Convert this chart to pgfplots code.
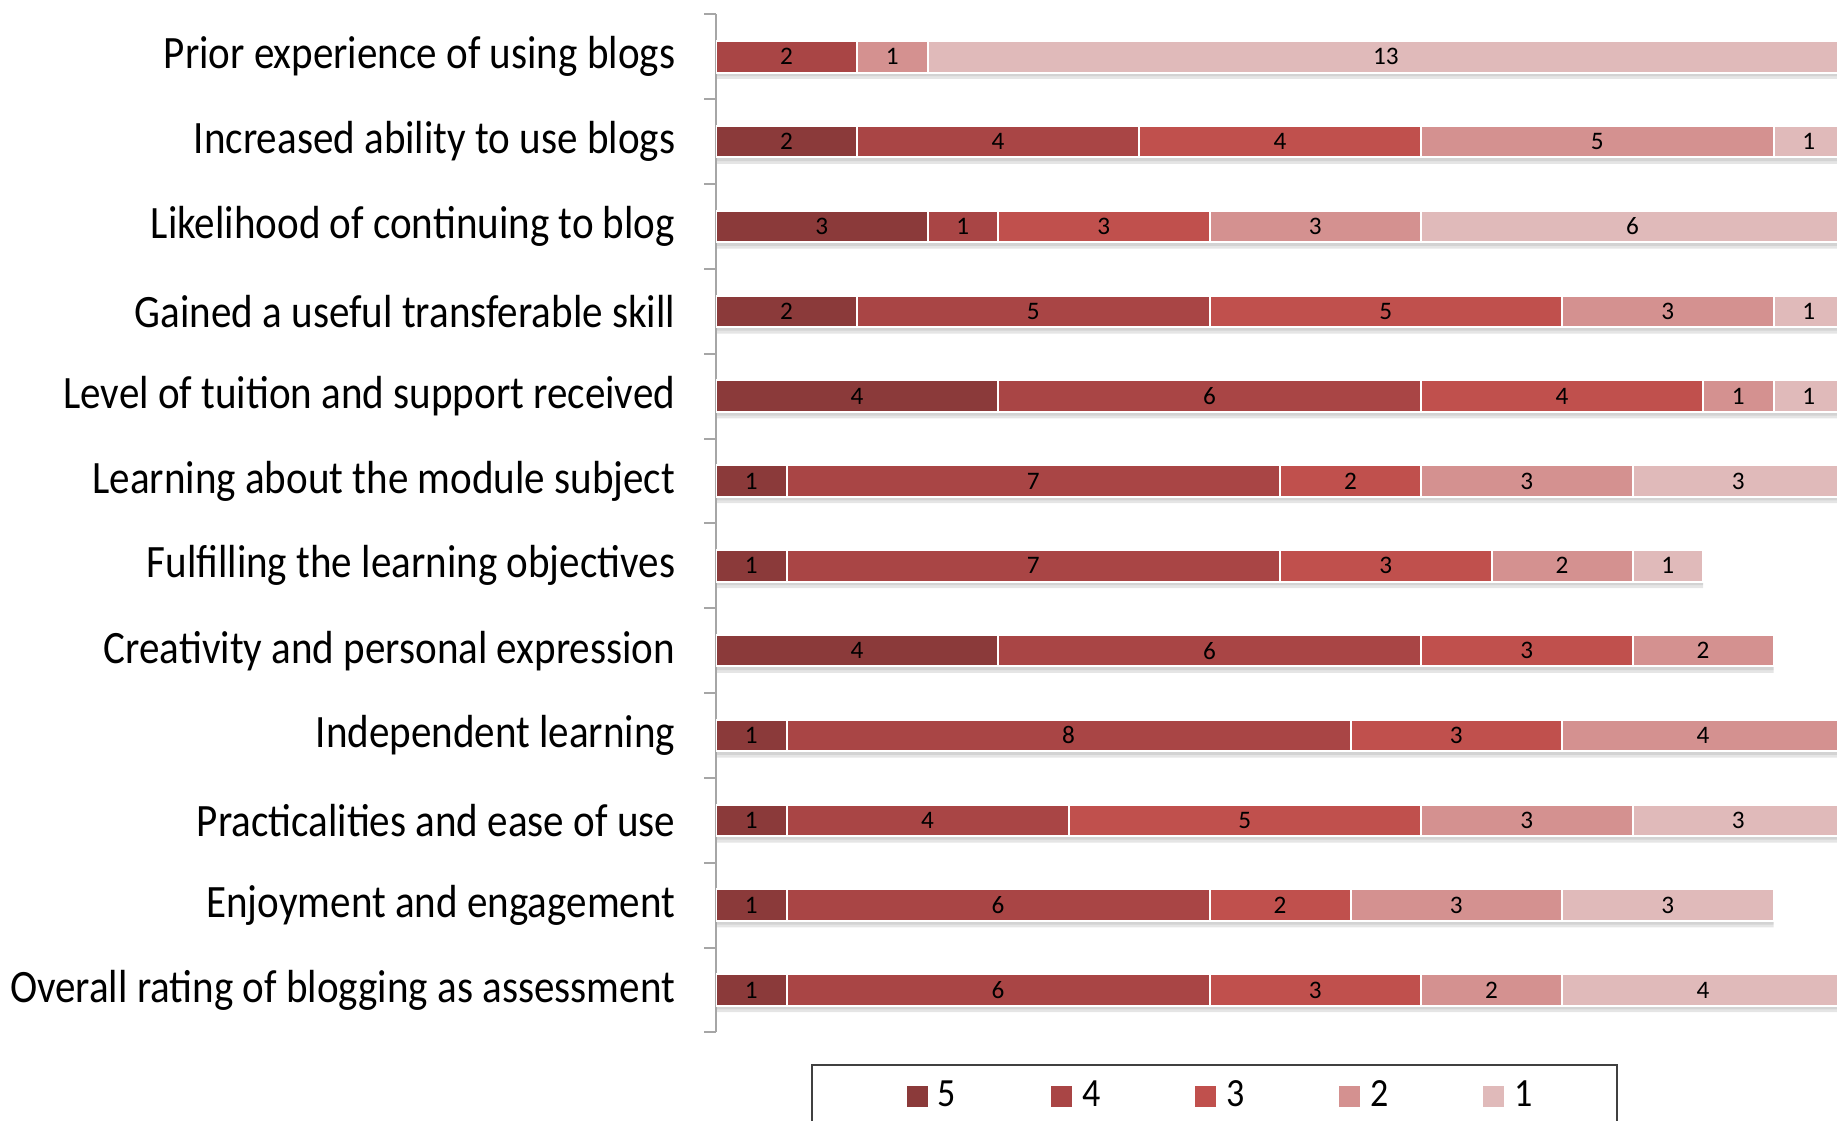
\documentclass[border=0pt]{standalone}
\usepackage{fontspec}
\setmainfont{Carlito}
\newfontfamily\legendfont[FakeStretch=0.9]{Carlito}
\newfontfamily\labelfont[FakeStretch=0.885]{Carlito}
\usepackage{pgfplots}
\usepackage{pgfplotstable}
\pgfplotsset{compat=1.18}
\definecolor{c5}{HTML}{8B3A3A}
\definecolor{c4}{HTML}{A94545}
\definecolor{c3}{HTML}{C0504D}
\definecolor{c2}{HTML}{D49190}
\definecolor{c1}{HTML}{E0BABA}
\definecolor{axgray}{HTML}{A6A6A6}
\pgfplotsset{
  firstleg/.style={legend image code/.code={\path (-4.75pt,0pt); \fill[##1,draw=none] (0pt,-2.625pt) rectangle (5.25pt,2.625pt);}},
}

\pgfplotstableread{
x y label
0.5 0 1
4 0 6
8.5 0 3
11 0 2
14 0 4
0.5 1 1
4 1 6
8 1 2
10.5 1 3
13.5 1 3
0.5 2 1
3 2 4
7.5 2 5
11.5 2 3
14.5 2 3
0.5 3 1
5 3 8
10.5 3 3
14 3 4
2 4 4
7 4 6
11.5 4 3
14 4 2
0.5 5 1
4.5 5 7
9.5 5 3
12 5 2
13.5 5 1
0.5 6 1
4.5 6 7
9 6 2
11.5 6 3
14.5 6 3
2 7 4
7 7 6
12 7 4
14.5 7 1
15.5 7 1
1 8 2
4.5 8 5
9.5 8 5
13.5 8 3
15.5 8 1
1.5 9 3
3.5 9 1
5.5 9 3
8.5 9 3
13 9 6
1 10 2
4 10 4
8 10 4
12.5 10 5
15.5 10 1
1 11 2
2.5 11 1
9.5 11 13
}\labeltable

\pgfplotstableread{
total y
16 0
15 1
16 2
16 3
15 4
14 5
16 6
16 7
16 8
16 9
16 10
16 11
}\totaltable

\begin{document}
\begin{tikzpicture}[x=1pt,y=1pt]
\path[use as bounding box, clip] (0,0) rectangle (459.25,280.25);
% soft shadow beneath the bars
\begin{axis}[
  at={(179pt,22.15pt)}, anchor=south west,
  width=280.25pt, height=254.5pt, scale only axis,
  xmin=0, xmax=15.9, ymin=-0.5, ymax=11.5,
  hide axis, xbar, bar width=7.9pt,
]
\addplot[fill=black, opacity=0.10, draw=none, bar shift=-1.6pt] table[x=total, y=y] {\totaltable};
\addplot[fill=black, opacity=0.08, draw=none, bar shift=-0.9pt] table[x=total, y=y] {\totaltable};
\end{axis}
\begin{axis}[
  at={(179pt,22.15pt)}, anchor=south west,
  width=280.25pt, height=254.5pt, scale only axis,
  xbar stacked, bar width=7.9pt,
  xmin=0, xmax=15.9, ymin=-0.5, ymax=11.5,
  axis x line=none, axis y line*=left,
  axis line style={draw=axgray, line width=0.5pt},
  ytick={0,...,11},
  yticklabels={Overall rating of blogging as assessment, Enjoyment and engagement, Practicalities and ease of use, Independent learning, Creativity and personal expression, Fulfilling the learning objectives, Learning about the module subject, Level of tuition and support received, Gained a useful transferable skill, Likelihood of continuing to blog, Increased ability to use blogs, Prior experience of using blogs},
  major tick length=0pt,
  minor ytick={-0.5,0.5,...,11.5}, minor tick length=3pt,
  tick align=outside,
  minor tick style={draw=axgray, line width=0.5pt},
  yticklabel style={font=\labelfont\fontsize{11.6pt}{13pt}\selectfont, inner xsep=0pt, xshift=-10pt},
  legend columns=5,
  legend image code/.code={\fill[#1,draw=none] (0pt,-2.625pt) rectangle (5.25pt,2.625pt);},
  legend style={at={(0.0847,-0.031)}, anchor=north west, draw=black!75, line width=0.5pt,
    inner xsep=18.75pt, inner ysep=3.9pt,
    font=\legendfont\fontsize{10pt}{11pt}\selectfont,
    nodes={inner xsep=2.5pt, inner ysep=0pt},
    /tikz/every even column/.append style={column sep=21.2pt}},
]
\addplot[fill=c5, draw=white, line width=0.5pt, firstleg]
  coordinates {(1,0) (1,1) (1,2) (1,3) (4,4) (1,5) (1,6) (4,7) (2,8) (3,9) (2,10) (0,11)};
\addlegendentry{5}
\addplot[fill=c4, draw=white, line width=0.5pt] coordinates {(6,0) (6,1) (4,2) (8,3) (6,4) (7,5) (7,6) (6,7) (5,8) (1,9) (4,10) (2,11)};
\addlegendentry{4}
\addplot[fill=c3, draw=white, line width=0.5pt] coordinates {(3,0) (2,1) (5,2) (3,3) (3,4) (3,5) (2,6) (4,7) (5,8) (3,9) (4,10) (0,11)};
\addlegendentry{3}
\addplot[fill=c2, draw=white, line width=0.5pt] coordinates {(2,0) (3,1) (3,2) (4,3) (2,4) (2,5) (3,6) (1,7) (3,8) (3,9) (5,10) (1,11)};
\addlegendentry{2}
\addplot[fill=c1, draw=white, line width=0.5pt] coordinates {(4,0) (3,1) (3,2) (0,3) (0,4) (1,5) (3,6) (1,7) (1,8) (6,9) (1,10) (13,11)};
\addlegendentry{1}
\end{axis}
\begin{axis}[
  at={(179pt,22.15pt)}, anchor=south west,
  width=280.25pt, height=254.5pt, scale only axis,
  xmin=0, xmax=15.9, ymin=-0.5, ymax=11.5,
  hide axis, clip=false,
]
\addplot[draw=none, mark=none, nodes near coords, point meta=explicit symbolic,
  every node near coord/.style={anchor=center, font=\fontsize{6.3pt}{7pt}\selectfont, text=black, inner sep=0pt}]
  table[x=x, y=y, meta=label] {\labeltable};
\end{axis}
\end{tikzpicture}
\end{document}
